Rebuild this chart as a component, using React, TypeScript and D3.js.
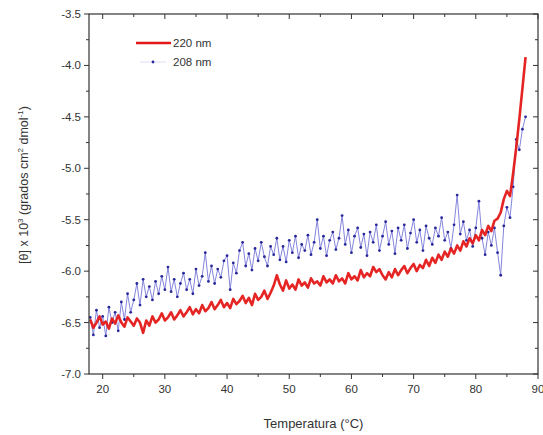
import React from "react";
import * as d3 from "d3";

// Temperature (°C), sampled every 0.5 degrees
const temperature: number[] = [
  18.0, 18.5, 19.0, 19.5, 20.0, 20.5, 21.0, 21.5, 22.0, 22.5,
  23.0, 23.5, 24.0, 24.5, 25.0, 25.5, 26.0, 26.5, 27.0, 27.5,
  28.0, 28.5, 29.0, 29.5, 30.0, 30.5, 31.0, 31.5, 32.0, 32.5,
  33.0, 33.5, 34.0, 34.5, 35.0, 35.5, 36.0, 36.5, 37.0, 37.5,
  38.0, 38.5, 39.0, 39.5, 40.0, 40.5, 41.0, 41.5, 42.0, 42.5,
  43.0, 43.5, 44.0, 44.5, 45.0, 45.5, 46.0, 46.5, 47.0, 47.5,
  48.0, 48.5, 49.0, 49.5, 50.0, 50.5, 51.0, 51.5, 52.0, 52.5,
  53.0, 53.5, 54.0, 54.5, 55.0, 55.5, 56.0, 56.5, 57.0, 57.5,
  58.0, 58.5, 59.0, 59.5, 60.0, 60.5, 61.0, 61.5, 62.0, 62.5,
  63.0, 63.5, 64.0, 64.5, 65.0, 65.5, 66.0, 66.5, 67.0, 67.5,
  68.0, 68.5, 69.0, 69.5, 70.0, 70.5, 71.0, 71.5, 72.0, 72.5,
  73.0, 73.5, 74.0, 74.5, 75.0, 75.5, 76.0, 76.5, 77.0, 77.5,
  78.0, 78.5, 79.0, 79.5, 80.0, 80.5, 81.0, 81.5, 82.0, 82.5,
  83.0, 83.5, 84.0, 84.5, 85.0, 85.5, 86.0, 86.5, 87.0, 87.5,
  88.0,
];

// Mean residue ellipticity at 220 nm, [θ] x 10^3
const ellip220: number[] = [
  -6.47, -6.55, -6.50, -6.44, -6.52, -6.49, -6.56, -6.46, -6.51, -6.43,
  -6.50, -6.54, -6.45, -6.49, -6.53, -6.46, -6.50, -6.60, -6.48, -6.53,
  -6.44, -6.50, -6.47, -6.41, -6.48, -6.45, -6.40, -6.47, -6.43, -6.38,
  -6.44, -6.40, -6.35, -6.42, -6.37, -6.41, -6.33, -6.39, -6.36, -6.30,
  -6.37, -6.33, -6.28, -6.35, -6.31, -6.36, -6.27, -6.32, -6.29, -6.24,
  -6.31, -6.26, -6.33, -6.22, -6.28, -6.25, -6.19, -6.27, -6.21, -6.14,
  -6.04, -6.13, -6.19, -6.09, -6.17, -6.13, -6.18, -6.08, -6.14, -6.11,
  -6.16, -6.07, -6.12, -6.10, -6.14, -6.05, -6.11, -6.08, -6.12, -6.04,
  -6.10, -6.07, -6.12, -6.02, -6.08, -6.05, -6.09, -5.99, -6.06, -6.02,
  -6.05, -5.96, -6.01, -5.98, -6.04, -6.08, -6.01, -6.06, -5.98, -6.04,
  -5.99, -5.95, -6.02, -5.97, -5.93, -6.00, -5.94, -5.97, -5.89, -5.95,
  -5.87, -5.92, -5.84, -5.89, -5.81, -5.86, -5.78, -5.83, -5.75, -5.80,
  -5.71, -5.76, -5.68, -5.73, -5.65, -5.70, -5.60, -5.65, -5.56, -5.61,
  -5.51, -5.49, -5.43, -5.30, -5.22, -5.27, -5.05, -4.80, -4.52, -4.22,
  -3.92,
];

// Mean residue ellipticity at 208 nm, [θ] x 10^3
const ellip208: number[] = [
  -6.45, -6.62, -6.38, -6.55, -6.44, -6.63, -6.35, -6.50, -6.40, -6.58,
  -6.30, -6.47, -6.22, -6.40, -6.28, -6.12, -6.33, -6.08, -6.25, -6.15,
  -6.28, -6.10, -6.22, -6.05, -6.18, -5.96, -6.20, -6.08, -6.25, -6.12,
  -6.02, -6.18, -6.08, -6.22, -5.98, -6.14, -6.05, -5.82, -6.10, -5.95,
  -6.12, -5.98, -6.06, -5.90, -5.85, -6.18, -5.92, -6.02, -5.80, -5.72,
  -5.95, -5.83, -5.99, -5.78, -5.90, -5.72, -5.86, -5.95, -5.76, -5.84,
  -5.68, -5.89, -5.76, -5.91, -5.70, -5.82, -5.66, -5.87, -5.74, -5.80,
  -5.65, -5.84, -5.72, -5.50, -5.78, -5.66, -5.85, -5.70, -5.62, -5.79,
  -5.68, -5.46, -5.74, -5.60, -5.82, -5.66, -5.58, -5.77, -5.64, -5.85,
  -5.62, -5.72, -5.55, -5.80, -5.66, -5.52, -5.74, -5.61, -5.83, -5.58,
  -5.70, -5.55, -5.78, -5.63, -5.50, -5.72, -5.60, -5.80, -5.56, -5.68,
  -5.74, -5.58, -5.66, -5.48, -5.70, -5.62, -5.78, -5.55, -5.26, -5.64,
  -5.52, -5.70, -5.60, -5.76, -5.58, -5.32, -5.68, -5.84, -5.62, -5.75,
  -5.58, -5.82, -6.04, -5.56, -5.38, -5.48, -5.18, -4.72, -4.82, -4.62,
  -4.50,
];

const xMajor: number[] = [20, 30, 40, 50, 60, 70, 80, 90];
const xMinor: number[] = [25, 35, 45, 55, 65, 75, 85];
const yMajor: number[] = [-7.0, -6.5, -6.0, -5.5, -5.0, -4.5, -4.0, -3.5];
const yMinor: number[] = [-6.75, -6.25, -5.75, -5.25, -4.75, -4.25, -3.75];

const seriesNames: string[] = ["220 nm", "208 nm"];

const W = 543;
const H = 435;
const left = 89;
const right = 538;
const top = 14;
const bottom = 374;

const FONT = "'Liberation Sans', Arial, sans-serif";
const AXIS = "#333";
const RED = "#e41818";
const BLUE_LINE = "#7676d8";
const BLUE_DOT = "#28289a";

export default function App() {
  const x = d3.scaleLinear().domain([17.8, 90]).range([left, right]);
  const y = d3.scaleLinear().domain([-7.0, -3.5]).range([bottom, top]);

  const pts220 = temperature.map((t, i) => [t, ellip220[i]] as [number, number]);
  const pts208 = temperature.map((t, i) => [t, ellip208[i]] as [number, number]);

  const line = d3
    .line<[number, number]>()
    .x((d) => x(d[0]))
    .y((d) => y(d[1]));

  // plain hyphen-minus for negative tick labels
  const fmt = (v: number) => v.toFixed(1);

  return (
    <svg
      width={W}
      height={H}
      viewBox={`0 0 ${W} ${H}`}
      style={{ position: "absolute", left: 0, top: 0, display: "block", background: "#fff" }}
      fontFamily={FONT}
    >
      <defs>
        <clipPath id="plotArea">
          <rect x={left} y={top} width={right - left} height={bottom - top} />
        </clipPath>
      </defs>

      {/* data */}
      <g clipPath="url(#plotArea)">
        <path d={line(pts208) || ""} fill="none" stroke={BLUE_LINE} strokeWidth={0.9} />
        {pts208.map((d, i) => (
          <circle key={i} cx={x(d[0])} cy={y(d[1])} r={1.4} fill={BLUE_DOT} />
        ))}
        <path
          d={line(pts220) || ""}
          fill="none"
          stroke={RED}
          strokeWidth={2.6}
          strokeLinejoin="round"
          opacity={0.95}
        />
      </g>

      {/* frame */}
      <rect
        x={left}
        y={top}
        width={right - left}
        height={bottom - top}
        fill="none"
        stroke={AXIS}
        strokeWidth={1.2}
      />

      {/* bottom / top ticks */}
      {xMajor.map((v) => (
        <g key={"xM" + v}>
          <line x1={x(v)} x2={x(v)} y1={bottom} y2={bottom + 5} stroke={AXIS} strokeWidth={1} />
          <line x1={x(v)} x2={x(v)} y1={top} y2={top + 5} stroke={AXIS} strokeWidth={1} />
          <text x={x(v)} y={bottom + 19} textAnchor="middle" fontSize={11.5} fill={AXIS}>
            {v}
          </text>
        </g>
      ))}
      {xMinor.map((v) => (
        <g key={"xm" + v}>
          <line x1={x(v)} x2={x(v)} y1={bottom} y2={bottom + 3} stroke={AXIS} strokeWidth={1} />
          <line x1={x(v)} x2={x(v)} y1={top} y2={top + 3} stroke={AXIS} strokeWidth={1} />
        </g>
      ))}

      {/* left / right ticks */}
      {yMajor.map((v) => (
        <g key={"yM" + v}>
          <line x1={left - 5} x2={left} y1={y(v)} y2={y(v)} stroke={AXIS} strokeWidth={1} />
          <line x1={right - 5} x2={right} y1={y(v)} y2={y(v)} stroke={AXIS} strokeWidth={1} />
          <text x={left - 8} y={y(v)} dy="0.35em" textAnchor="end" fontSize={11.5} fill={AXIS}>
            {fmt(v)}
          </text>
        </g>
      ))}
      {yMinor.map((v) => (
        <g key={"ym" + v}>
          <line x1={left - 3} x2={left} y1={y(v)} y2={y(v)} stroke={AXIS} strokeWidth={1} />
          <line x1={right - 3} x2={right} y1={y(v)} y2={y(v)} stroke={AXIS} strokeWidth={1} />
        </g>
      ))}

      {/* axis titles */}
      <text x={(left + right) / 2} y={428} textAnchor="middle" fontSize={13} fill={AXIS}>
        Temperatura (°C)
      </text>
      <text transform={`translate(28, 185) rotate(-90)`} textAnchor="middle" fontSize={12.5} fill={AXIS}>
        [θ] x 10
        <tspan dy={-5} fontSize={8}>3</tspan>
        <tspan dy={5}> (grados cm</tspan>
        <tspan dy={-5} fontSize={8}>2</tspan>
        <tspan dy={5}> dmol</tspan>
        <tspan dy={-5} fontSize={8}>-1</tspan>
        <tspan dy={5}>)</tspan>
      </text>

      {/* legend */}
      <g>
        <line x1={136} x2={171} y1={43} y2={43} stroke={RED} strokeWidth={2.6} />
        <text x={173} y={43} dy="0.35em" fontSize={11.5} fill={AXIS}>
          {seriesNames[0]}
        </text>
        <line x1={140} x2={166} y1={62} y2={62} stroke={BLUE_LINE} strokeWidth={0.6} opacity={0.4} />
        <circle cx={153} cy={62} r={1.4} fill={BLUE_DOT} />
        <text x={173} y={62} dy="0.35em" fontSize={11.5} fill={AXIS}>
          {seriesNames[1]}
        </text>
      </g>
    </svg>
  );
}
